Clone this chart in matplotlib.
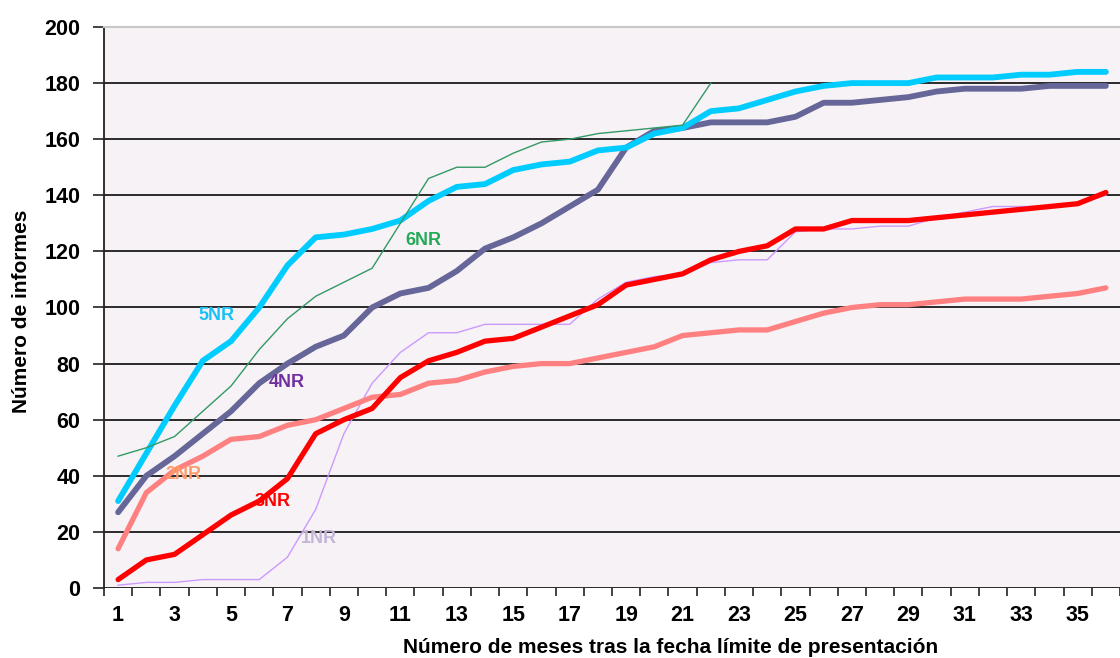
import numpy as np
import matplotlib
matplotlib.use('Agg')
import matplotlib.pyplot as plt

plt.rcParams['font.family'] = ['Liberation Sans', 'DejaVu Sans']
plt.rcParams['font.weight'] = 'bold'

# meses tras la fecha limite
meses = np.arange(1, 37)

# numero acumulado de informes por ronda
nr1 = [1, 2, 2, 3, 3, 3, 11, 28, 55, 73, 84, 91, 91, 94, 94, 94, 94, 103, 109, 111,
       112, 116, 117, 117, 127, 128, 128, 129, 129, 132, 134, 136, 136, 136, 137, 140]
nr2 = [14, 34, 42, 47, 53, 54, 58, 60, 64, 68, 69, 73, 74, 77, 79, 80, 80, 82, 84, 86,
       90, 91, 92, 92, 95, 98, 100, 101, 101, 102, 103, 103, 103, 104, 105, 107]
nr3 = [3, 10, 12, 19, 26, 31, 39, 55, 60, 64, 75, 81, 84, 88, 89, 93, 97, 101, 108, 110,
       112, 117, 120, 122, 128, 128, 131, 131, 131, 132, 133, 134, 135, 136, 137, 141]
nr4 = [27, 40, 47, 55, 63, 73, 80, 86, 90, 100, 105, 107, 113, 121, 125, 130, 136, 142, 157, 163,
       164, 166, 166, 166, 168, 173, 173, 174, 175, 177, 178, 178, 178, 179, 179, 179]
nr5 = [31, 48, 65, 81, 88, 100, 115, 125, 126, 128, 131, 138, 143, 144, 149, 151, 152, 156, 157, 162,
       164, 170, 171, 174, 177, 179, 180, 180, 180, 182, 182, 182, 183, 183, 184, 184]
nr6 = [47, 50, 54, 63, 72, 85, 96, 104, 109, 114, 130, 146, 150, 150, 155, 159, 160, 162, 163, 164,
       165, 180]

fig = plt.figure(figsize=(11.2, 6.58), dpi=100)
ax = fig.add_axes([104 / 1120, 1 - 588 / 658, 1 - 104 / 1120, (588 - 27) / 658])
ax.set_facecolor('#F6F2F6')

ax.plot(meses, nr1, color='#CC99FF', lw=1.0)
ax.plot(meses, nr2, color='#FF8080', lw=3.8, solid_joinstyle='round', solid_capstyle='round')
ax.plot(meses, nr3, color='#FF0000', lw=3.8, solid_joinstyle='round', solid_capstyle='round')
ax.plot(meses, nr4, color='#666699', lw=4.2, solid_joinstyle='round', solid_capstyle='round')
ax.plot(meses, nr5, color='#00CCFF', lw=4.2, solid_joinstyle='round', solid_capstyle='round')
ax.plot(meses[:len(nr6)], nr6, color='#339966', lw=1.0)

# etiquetas de las series
kw = dict(fontsize=13, fontweight='bold', ha='center', va='center')
ax.text(4.47, 97, '5NR', color='#1AC0F5', **kw)
ax.text(11.83, 124, '6NR', color='#22AA55', **kw)
ax.text(6.97, 73.4, '4NR', color='#7030A0', **kw)
ax.text(3.33, 40.3, '2NR', color='#FF9966', **kw)
ax.text(6.49, 30.7, '3NR', color='#FF0000', **kw)
ax.text(8.12, 17.8, '1NR', color='#C4B4D6', **kw)

ax.set_xlim(0.5, 35.78)
ax.set_ylim(0, 200)
ax.set_yticks(np.arange(0, 201, 20))
ax.set_xticks(np.arange(1, 36, 2))
ax.set_xticks(np.arange(0.5, 36.6, 1), minor=True)
ax.tick_params(axis='x', which='major', length=0, pad=12, labelsize=15.5)
ax.tick_params(axis='x', which='minor', length=6, width=1.2, color='#222222')
ax.tick_params(axis='y', length=8, width=1.2, color='#222222', pad=9, labelsize=15.5)
for lab in ax.get_xticklabels() + ax.get_yticklabels():
    lab.set_fontweight('bold')

ax.grid(axis='y', color='#1a1a1a', lw=1.3)
ax.set_axisbelow(True)
for s in ['right', 'bottom']:
    ax.spines[s].set_visible(False)
ax.spines['top'].set_color('#C8C8C8')
ax.spines['top'].set_linewidth(1.5)
ax.spines['left'].set_color('#222222')
ax.spines['left'].set_linewidth(1.3)

ax.set_xlabel('Número de meses tras la fecha límite de presentación', fontsize=15, fontweight='bold')
ax.xaxis.set_label_coords(0.558, -0.09)
ax.set_ylabel('Número de informes', fontsize=15, fontweight='bold')
ax.yaxis.set_label_coords(-0.072, 0.494)

fig.savefig('out.png', dpi=100, facecolor='white')
